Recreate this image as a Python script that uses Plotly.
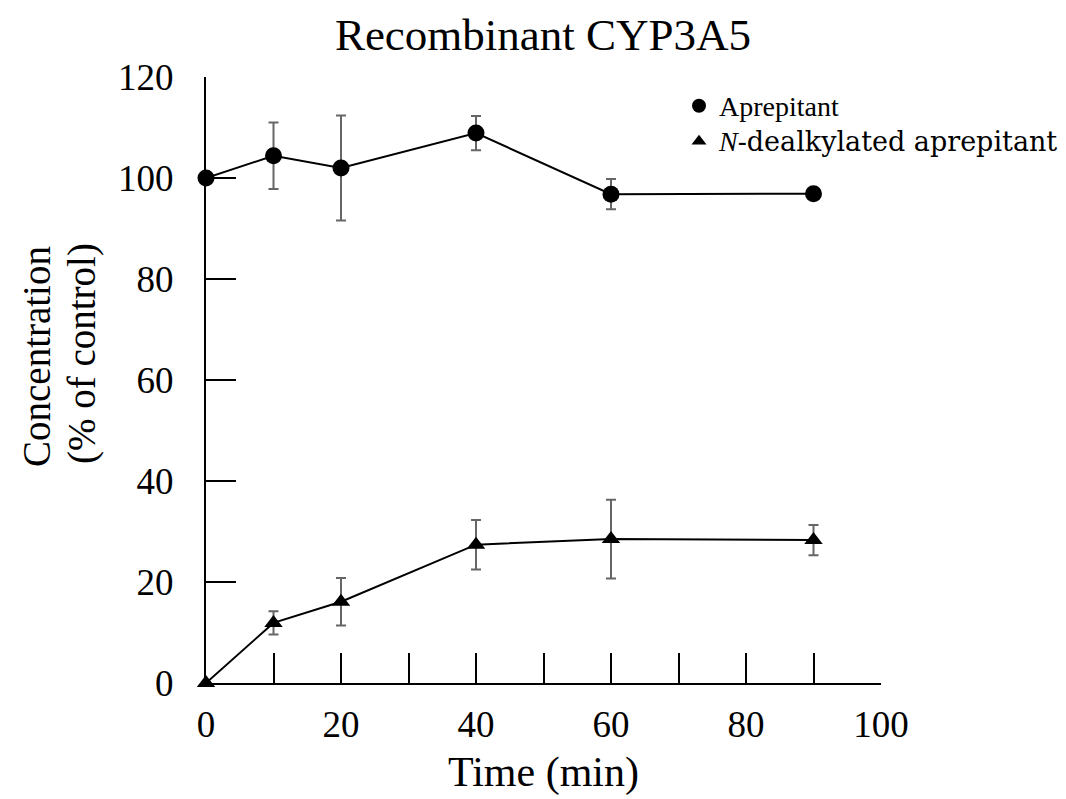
import plotly.graph_objects as go

time_min = [0, 10, 20, 40, 60, 90]
aprepitant = [100.0, 104.4, 102.0, 108.9, 96.8, 96.9]
aprepitant_err = [0.0, 6.6, 10.4, 3.4, 3.0, 1.0]
dealkyl = [0.0, 11.9, 16.1, 27.4, 28.5, 28.3]
dealkyl_err = [0.0, 2.3, 4.7, 4.9, 7.8, 3.0]

FONT = "Liberation Serif, Times New Roman, serif"
ERR_COLOR = "#666666"

L, T, W, H = 198, 69, 675, 606


def px(xf):
    return (xf - L) / W


def py(yf):
    return (T + H - yf) / H


fig = go.Figure()
fig.add_trace(go.Scatter(
    x=time_min, y=aprepitant, mode="lines+markers",
    line=dict(color="black", width=2),
    marker=dict(symbol="circle", size=17, color="black"),
    error_y=dict(type="data", array=aprepitant_err, visible=True,
                 color=ERR_COLOR, thickness=2, width=5),
    cliponaxis=False, showlegend=False))
fig.add_trace(go.Scatter(
    x=time_min, y=dealkyl, mode="lines+markers",
    line=dict(color="black", width=2),
    marker=dict(symbol="triangle-up", size=16, color="black"),
    error_y=dict(type="data", array=dealkyl_err, visible=True,
                 color=ERR_COLOR, thickness=2, width=5),
    cliponaxis=False, showlegend=False))
# legend-only entries
fig.add_trace(go.Scatter(x=[None], y=[None], mode="markers",
                         name="<span style=\"font-size:28px\">Aprepitant</span>",
                         marker=dict(symbol="circle", size=14, color="black")))
fig.add_trace(go.Scatter(
    x=[None], y=[None], mode="markers",
    name="<span style=\"font-size:28px\"><i>N</i></span>"
         "<span style=\"font-family:'DejaVu Serif';font-size:27px\">-dealkylated aprepitant</span>",
    marker=dict(symbol="triangle-up", size=13, color="black")))

fig.update_layout(
    width=1066, height=799,
    margin=dict(l=L, r=1066 - L - W, t=T, b=799 - T - H, autoexpand=False),
    paper_bgcolor="white", plot_bgcolor="white",
    font=dict(family=FONT, color="black", size=37),
    title=dict(text="Recombinant CYP3A5", x=(543 - 8) / 1066, xanchor="center",
               y=1 - 26 / 799, yanchor="middle", font=dict(size=45, family=FONT)),
    legend=dict(x=px(671), y=py(75), xanchor="left", yanchor="top",
                font=dict(size=25, family=FONT), bgcolor="rgba(0,0,0,0)",
                tracegroupgap=0, itemwidth=30),
    annotations=[
        dict(text="Concentration", xref="paper", yref="paper", x=px(28), y=py(349),
             xanchor="center", yanchor="middle", textangle=-90, showarrow=False,
             font=dict(size=39, family=FONT)),
        dict(text="(% of control)", xref="paper", yref="paper", x=px(74), y=py(346),
             xanchor="center", yanchor="middle", textangle=-90, showarrow=False,
             font=dict(size=39, family=FONT)),
    ],
)
fig.update_xaxes(
    range=[0, 100], dtick=20, tick0=0, ticks="inside", ticklen=30, tickwidth=2,
    tickcolor="black", showline=True, linecolor="black", linewidth=2,
    showgrid=False, zeroline=False, ticklabelstandoff=8,
    minor=dict(dtick=10, ticks="inside", ticklen=30, tickwidth=2, tickcolor="black", showgrid=False),
    title=dict(text="Time (min)", font=dict(size=42, family=FONT), standoff=12),
)
fig.update_yaxes(
    range=[0, 120], dtick=20, tick0=0, ticks="inside", ticklen=30, tickwidth=2,
    tickcolor="black", showline=True, linecolor="black", linewidth=2,
    showgrid=False, zeroline=False, ticklabelstandoff=23,
)
fig.write_html("out.html")
